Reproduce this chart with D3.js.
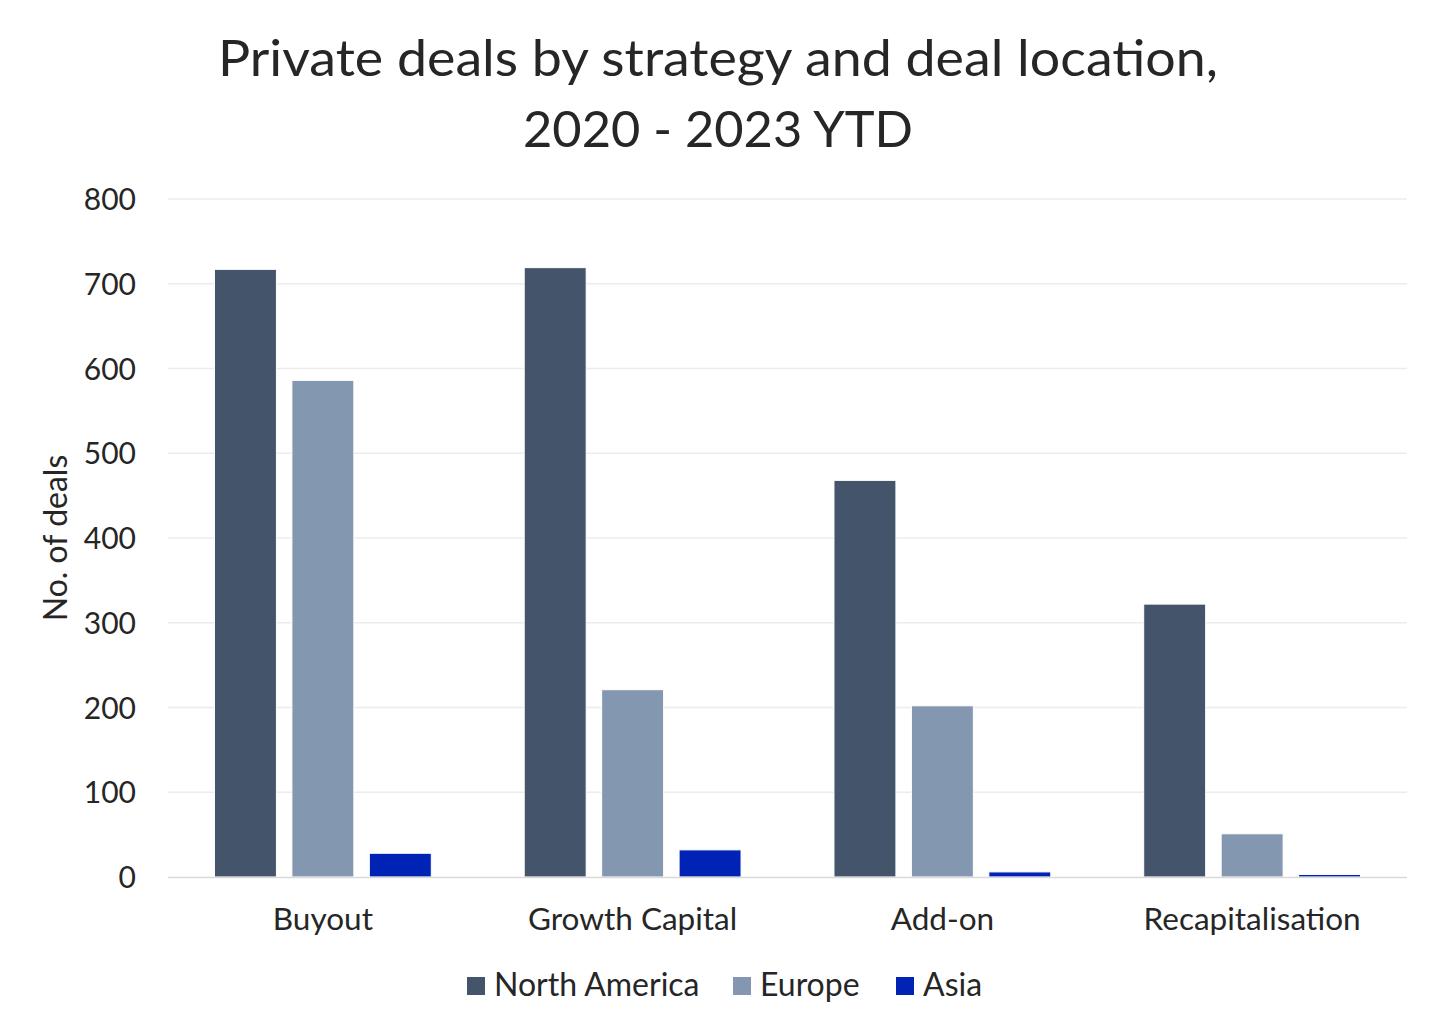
<!DOCTYPE html>
<html><head><meta charset="utf-8">
<script src="https://cdn.jsdelivr.net/npm/d3@7"></script>
<style>
html,body{margin:0;padding:0;background:#fff;}
svg text{font-family:Lato,"Open Sans",sans-serif;fill:#262626;}
</style></head>
<body>
<svg id="c" width="1440" height="1035"></svg>
<script>
const categories = ["Buyout","Growth Capital","Add-on","Recapitalisation"];
const seriesNames = ["North America","Europe","Asia"];
const northAmerica = [717, 719, 468, 322];
const europe = [586, 221, 202, 51];
const asia = [28, 32, 6, 3];
const yTicks = [0,100,200,300,400,500,600,700,800];
const colors = ["#44546A","#8497B0","#0023B5"];
const titleLines = ["Private deals by strategy and deal location,","2020 - 2023 YTD"];

const seriesValues = [northAmerica, europe, asia];
const svg = d3.select("#c");
const plotLeft = 168, plotRight = 1407, plotTop = 199, plotBottom = 877;

const y = d3.scaleLinear().domain([0,800]).range([plotBottom, plotTop]);
const x0 = d3.scaleBand().domain(categories).range([plotLeft, plotRight]).padding(0);
const groupW = x0.bandwidth()*0.7;
const x1 = d3.scaleBand().domain(seriesNames).range([0, groupW]).paddingInner(0.2).paddingOuter(0);

// title
const titleWidths = [1000, 390];
svg.append("g").selectAll("text").data(titleLines).join("text")
  .attr("x", 718).attr("y", (d,i)=>76 + i*71)
  .attr("text-anchor","middle").attr("font-size",51)
  .attr("textLength",(d,i)=>titleWidths[i]).attr("lengthAdjust","spacingAndGlyphs")
  .text(d=>d);

// gridlines
svg.append("g").selectAll("line").data(yTicks.filter(t=>t>0)).join("line")
  .attr("x1", plotLeft).attr("x2", plotRight)
  .attr("y1", d=>y(d)).attr("y2", d=>y(d))
  .attr("stroke","#ececec").attr("stroke-width",1.3);

// y axis labels
const yAxis = d3.axisLeft(y).tickValues(yTicks).tickSize(0).tickPadding(0);
const ya = svg.append("g").attr("transform",`translate(136,0)`).call(yAxis);
ya.select(".domain").remove();
ya.selectAll("text").attr("font-size",30).attr("font-family","Lato,sans-serif").attr("fill","#262626").attr("dy","0.35em");

// bars
const groups = svg.append("g").selectAll("g").data(categories).join("g")
  .attr("transform", c => `translate(${x0(c) + (x0.bandwidth()-groupW)/2},0)`);
groups.selectAll("rect").data((c,ci)=>seriesNames.map((s,si)=>({s, si, v: seriesValues[si][ci]}))).join("rect")
  .attr("x", d=>x1(d.s)).attr("width", x1.bandwidth())
  .attr("y", d=>y(d.v)).attr("height", d=>plotBottom - y(d.v))
  .attr("fill", d=>colors[d.si]).attr("stroke","#fff").attr("stroke-width",1);

// baseline
svg.append("line").attr("x1",plotLeft).attr("x2",plotRight).attr("y1",plotBottom+0.5).attr("y2",plotBottom+0.5)
  .attr("stroke","#d9d9d9").attr("stroke-width",1.5);

// x axis labels
const xAxis = d3.axisBottom(x0).tickSize(0).tickPadding(0);
const xa = svg.append("g").attr("transform",`translate(0,930)`).call(xAxis);
xa.select(".domain").remove();
xa.selectAll("text").attr("font-size",31.5).attr("font-family","Lato,sans-serif").attr("fill","#262626").attr("dy",0);

// y axis title
svg.append("text").attr("transform","translate(67,538) rotate(-90)")
  .attr("text-anchor","middle").attr("font-size",32).text("No. of deals");

// legend
const legX = [467, 733, 896];
const leg = svg.append("g").selectAll("g").data(seriesNames).join("g")
  .attr("transform",(d,i)=>`translate(${legX[i]},0)`);
leg.append("rect").attr("x",0).attr("y",977).attr("width",18).attr("height",18).attr("fill",(d,i)=>colors[i]);
leg.append("text").attr("x",27).attr("y",996).attr("font-size",32).text(d=>d);
</script>
</body></html>
